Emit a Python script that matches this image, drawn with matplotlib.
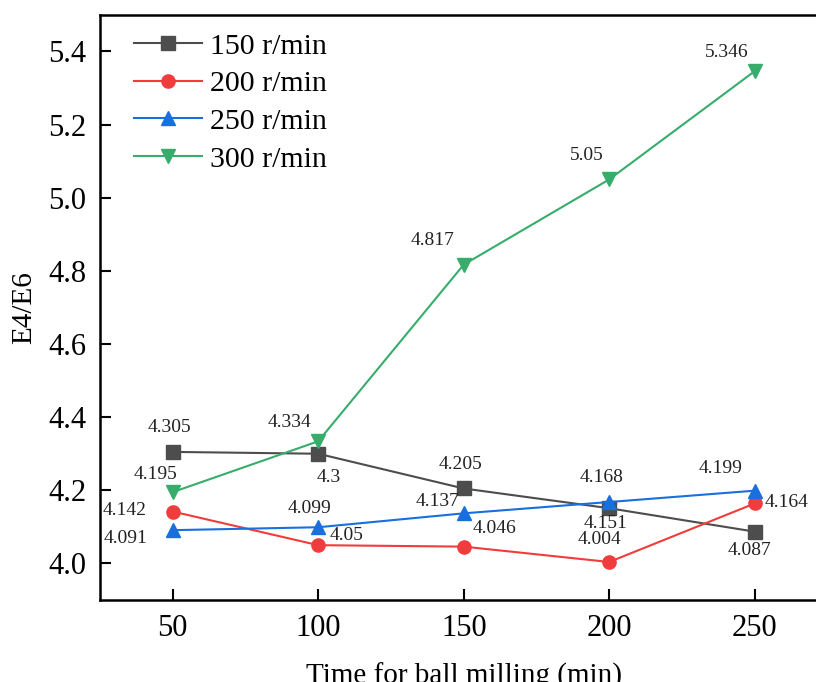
import matplotlib.pyplot as plt

# Data
time_min = [50, 100, 150, 200, 250]
e46_150 = [4.305, 4.300, 4.205, 4.151, 4.087]
e46_200 = [4.142, 4.050, 4.046, 4.004, 4.164]
e46_250 = [4.091, 4.099, 4.137, 4.168, 4.199]
e46_300 = [4.195, 4.334, 4.817, 5.050, 5.346]
label_150 = ["4.305", "4.3", "4.205", "4.151", "4.087"]
label_200 = ["4.142", "4.05", "4.046", "4.004", "4.164"]
label_250 = ["4.091", "4.099", "4.137", "4.168", "4.199"]
label_300 = ["4.195", "4.334", "4.817", "5.05", "5.346"]

# label offsets in pixels (dx, dy), up is positive
off_150 = [(-3, 24), (11, -24), (-3, 24), (-4, -15), (-5, -19)]
off_200 = [(-48, 1), (28, 10), (31, 18), (-10, 22), (32, 1)]
off_250 = [(-47, -8), (-9, 19), (-26, 12), (-8, 25), (-34, 22)]
off_300 = [(-17, 18), (-29, 19), (-31, 24), (-22, 24), (-28, 19)]

plt.rcParams['font.family'] = ['Liberation Serif', 'DejaVu Serif']

fig = plt.figure(figsize=(8.16, 6.82), dpi=100)
ax = fig.add_axes([0.1225, 0.1202, 0.8915, 0.858])

series = [
    ("150 r/min", e46_150, label_150, off_150, '#4d4d4d', 's'),
    ("200 r/min", e46_200, label_200, off_200, '#f03c3c', 'o'),
    ("250 r/min", e46_250, label_250, off_250, '#1a6fdf', '^'),
    ("300 r/min", e46_300, label_300, off_300, '#37ad6b', 'v'),
]

for name, vals, labels, offs, col, mk in series:
    ax.plot(time_min, vals, color=col, marker=mk, markersize=9.5,
            linewidth=1.5, label=name)
    for x, y, t, (dx, dy) in zip(time_min, vals, labels, offs):
        ax.annotate(t, (x, y), xytext=(dx * 0.72, dy * 0.72),
                    textcoords='offset points', ha='center', va='center',
                    fontsize=14, color='#222222')

ax.set_xlim(25, 275)
ax.set_ylim(3.9, 5.5)
ax.set_xticks(time_min)
ax.set_yticks([4.0, 4.2, 4.4, 4.6, 4.8, 5.0, 5.2, 5.4])
ax.set_yticklabels(["4.0", "4.2", "4.4", "4.6", "4.8", "5.0", "5.2", "5.4"])
ax.tick_params(direction='in', length=8, width=1.5, labelsize=22)
ax.tick_params(axis='y', pad=10)
ax.tick_params(axis='x', pad=10)
for s in ax.spines.values():
    s.set_linewidth(1.8)

# the reference crops the bottom of the x label slightly
ax.set_xlabel("Time for ball milling (min)", fontsize=21, labelpad=14)
ax.set_ylabel("E4/E6", fontsize=21, labelpad=8)

ax.legend(loc='upper left', frameon=False, fontsize=21.5,
          handlelength=2.3, handletextpad=0.25, labelspacing=0.36,
          borderaxespad=0.0, bbox_to_anchor=(0.03, 0.99))

fig.savefig("out.png", dpi=100)
